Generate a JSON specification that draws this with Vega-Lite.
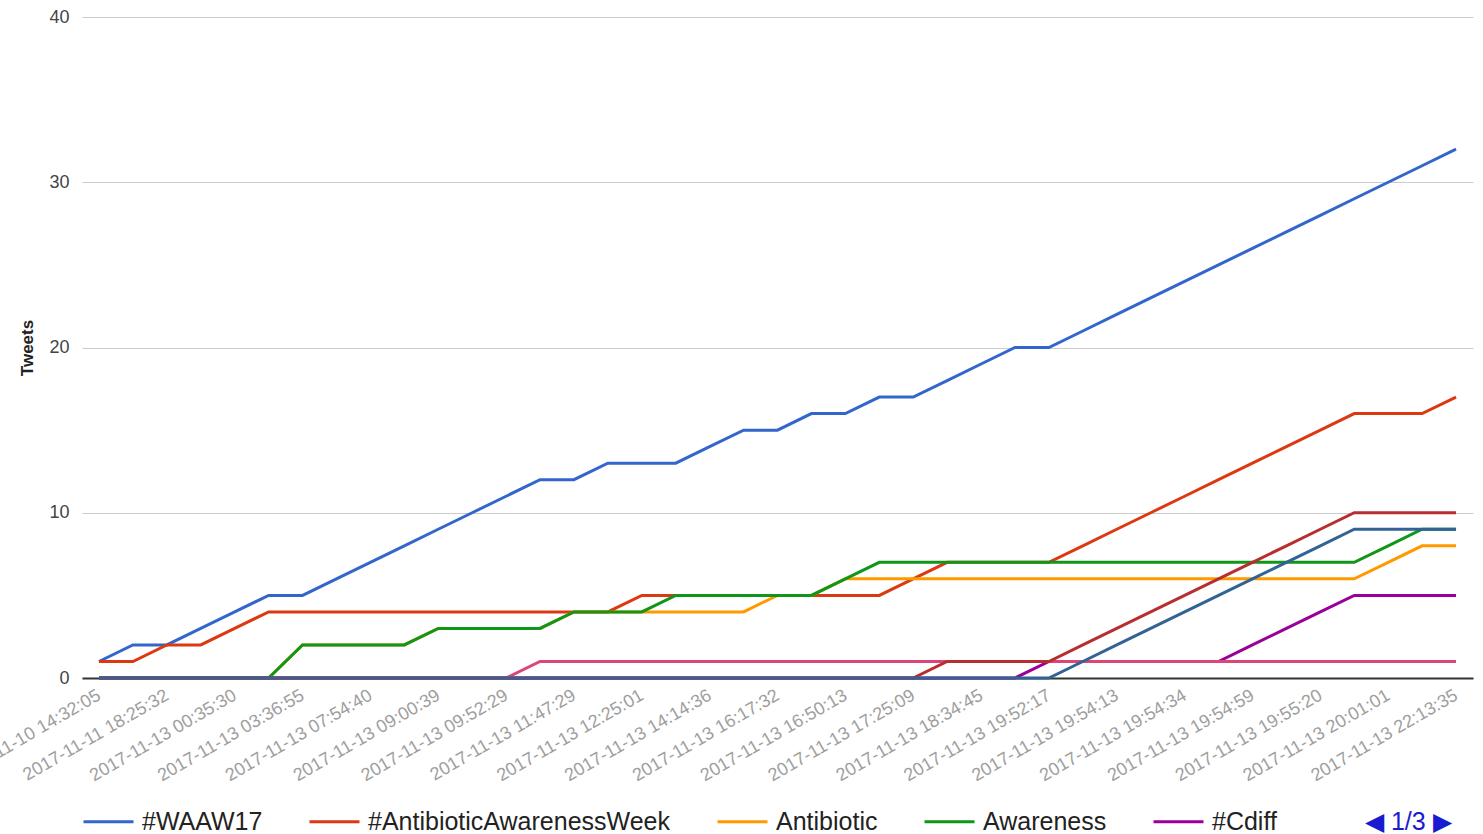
{
  "$schema": "https://vega.github.io/schema/vega-lite/v6.json",
  "autosize": {"type": "none"},
  "width": 1391,
  "height": 661,
  "padding": {"left": 82, "top": 17, "right": 10, "bottom": 156},
  "background": "white",
  "config": {
    "font": "Liberation Sans",
    "view": {"stroke": null}
  },
  "data": {
    "values": [
      {"t": "2017-11-10 14:32:05", "#WAAW17": 1, "#AntibioticAwarenessWeek": 1, "Antibiotic": 0, "Awareness": 0, "#Cdiff": 0, "#AMR": 0, "#antibiotics": 0, "#superbugs": 0},
      {"t": "2017-11-11 02:10:44", "#WAAW17": 2, "#AntibioticAwarenessWeek": 1, "Antibiotic": 0, "Awareness": 0, "#Cdiff": 0, "#AMR": 0, "#antibiotics": 0, "#superbugs": 0},
      {"t": "2017-11-11 18:25:32", "#WAAW17": 2, "#AntibioticAwarenessWeek": 2, "Antibiotic": 0, "Awareness": 0, "#Cdiff": 0, "#AMR": 0, "#antibiotics": 0, "#superbugs": 0},
      {"t": "2017-11-12 21:03:18", "#WAAW17": 3, "#AntibioticAwarenessWeek": 2, "Antibiotic": 0, "Awareness": 0, "#Cdiff": 0, "#AMR": 0, "#antibiotics": 0, "#superbugs": 0},
      {"t": "2017-11-13 00:35:30", "#WAAW17": 4, "#AntibioticAwarenessWeek": 3, "Antibiotic": 0, "Awareness": 0, "#Cdiff": 0, "#AMR": 0, "#antibiotics": 0, "#superbugs": 0},
      {"t": "2017-11-13 02:12:47", "#WAAW17": 5, "#AntibioticAwarenessWeek": 4, "Antibiotic": 0, "Awareness": 0, "#Cdiff": 0, "#AMR": 0, "#antibiotics": 0, "#superbugs": 0},
      {"t": "2017-11-13 03:36:55", "#WAAW17": 5, "#AntibioticAwarenessWeek": 4, "Antibiotic": 2, "Awareness": 2, "#Cdiff": 0, "#AMR": 0, "#antibiotics": 0, "#superbugs": 0},
      {"t": "2017-11-13 05:40:12", "#WAAW17": 6, "#AntibioticAwarenessWeek": 4, "Antibiotic": 2, "Awareness": 2, "#Cdiff": 0, "#AMR": 0, "#antibiotics": 0, "#superbugs": 0},
      {"t": "2017-11-13 07:54:40", "#WAAW17": 7, "#AntibioticAwarenessWeek": 4, "Antibiotic": 2, "Awareness": 2, "#Cdiff": 0, "#AMR": 0, "#antibiotics": 0, "#superbugs": 0},
      {"t": "2017-11-13 08:21:06", "#WAAW17": 8, "#AntibioticAwarenessWeek": 4, "Antibiotic": 2, "Awareness": 2, "#Cdiff": 0, "#AMR": 0, "#antibiotics": 0, "#superbugs": 0},
      {"t": "2017-11-13 09:00:39", "#WAAW17": 9, "#AntibioticAwarenessWeek": 4, "Antibiotic": 3, "Awareness": 3, "#Cdiff": 0, "#AMR": 0, "#antibiotics": 0, "#superbugs": 0},
      {"t": "2017-11-13 09:27:51", "#WAAW17": 10, "#AntibioticAwarenessWeek": 4, "Antibiotic": 3, "Awareness": 3, "#Cdiff": 0, "#AMR": 0, "#antibiotics": 0, "#superbugs": 0},
      {"t": "2017-11-13 09:52:29", "#WAAW17": 11, "#AntibioticAwarenessWeek": 4, "Antibiotic": 3, "Awareness": 3, "#Cdiff": 0, "#AMR": 0, "#antibiotics": 0, "#superbugs": 0},
      {"t": "2017-11-13 10:44:02", "#WAAW17": 12, "#AntibioticAwarenessWeek": 4, "Antibiotic": 3, "Awareness": 3, "#Cdiff": 0, "#AMR": 1, "#antibiotics": 0, "#superbugs": 0},
      {"t": "2017-11-13 11:47:29", "#WAAW17": 12, "#AntibioticAwarenessWeek": 4, "Antibiotic": 4, "Awareness": 4, "#Cdiff": 0, "#AMR": 1, "#antibiotics": 0, "#superbugs": 0},
      {"t": "2017-11-13 12:03:17", "#WAAW17": 13, "#AntibioticAwarenessWeek": 4, "Antibiotic": 4, "Awareness": 4, "#Cdiff": 0, "#AMR": 1, "#antibiotics": 0, "#superbugs": 0},
      {"t": "2017-11-13 12:25:01", "#WAAW17": 13, "#AntibioticAwarenessWeek": 5, "Antibiotic": 4, "Awareness": 4, "#Cdiff": 0, "#AMR": 1, "#antibiotics": 0, "#superbugs": 0},
      {"t": "2017-11-13 13:31:48", "#WAAW17": 13, "#AntibioticAwarenessWeek": 5, "Antibiotic": 4, "Awareness": 5, "#Cdiff": 0, "#AMR": 1, "#antibiotics": 0, "#superbugs": 0},
      {"t": "2017-11-13 14:14:36", "#WAAW17": 14, "#AntibioticAwarenessWeek": 5, "Antibiotic": 4, "Awareness": 5, "#Cdiff": 0, "#AMR": 1, "#antibiotics": 0, "#superbugs": 0},
      {"t": "2017-11-13 15:22:10", "#WAAW17": 15, "#AntibioticAwarenessWeek": 5, "Antibiotic": 4, "Awareness": 5, "#Cdiff": 0, "#AMR": 1, "#antibiotics": 0, "#superbugs": 0},
      {"t": "2017-11-13 16:17:32", "#WAAW17": 15, "#AntibioticAwarenessWeek": 5, "Antibiotic": 5, "Awareness": 5, "#Cdiff": 0, "#AMR": 1, "#antibiotics": 0, "#superbugs": 0},
      {"t": "2017-11-13 16:31:45", "#WAAW17": 16, "#AntibioticAwarenessWeek": 5, "Antibiotic": 5, "Awareness": 5, "#Cdiff": 0, "#AMR": 1, "#antibiotics": 0, "#superbugs": 0},
      {"t": "2017-11-13 16:50:13", "#WAAW17": 16, "#AntibioticAwarenessWeek": 5, "Antibiotic": 6, "Awareness": 6, "#Cdiff": 0, "#AMR": 1, "#antibiotics": 0, "#superbugs": 0},
      {"t": "2017-11-13 17:08:27", "#WAAW17": 17, "#AntibioticAwarenessWeek": 5, "Antibiotic": 6, "Awareness": 7, "#Cdiff": 0, "#AMR": 1, "#antibiotics": 0, "#superbugs": 0},
      {"t": "2017-11-13 17:25:09", "#WAAW17": 17, "#AntibioticAwarenessWeek": 6, "Antibiotic": 6, "Awareness": 7, "#Cdiff": 0, "#AMR": 1, "#antibiotics": 0, "#superbugs": 0},
      {"t": "2017-11-13 18:02:33", "#WAAW17": 18, "#AntibioticAwarenessWeek": 7, "Antibiotic": 6, "Awareness": 7, "#Cdiff": 0, "#AMR": 1, "#antibiotics": 1, "#superbugs": 0},
      {"t": "2017-11-13 18:34:45", "#WAAW17": 19, "#AntibioticAwarenessWeek": 7, "Antibiotic": 6, "Awareness": 7, "#Cdiff": 0, "#AMR": 1, "#antibiotics": 1, "#superbugs": 0},
      {"t": "2017-11-13 19:15:08", "#WAAW17": 20, "#AntibioticAwarenessWeek": 7, "Antibiotic": 6, "Awareness": 7, "#Cdiff": 0, "#AMR": 1, "#antibiotics": 1, "#superbugs": 0},
      {"t": "2017-11-13 19:52:17", "#WAAW17": 20, "#AntibioticAwarenessWeek": 7, "Antibiotic": 6, "Awareness": 7, "#Cdiff": 1, "#AMR": 1, "#antibiotics": 1, "#superbugs": 0},
      {"t": "2017-11-13 19:53:26", "#WAAW17": 21, "#AntibioticAwarenessWeek": 8, "Antibiotic": 6, "Awareness": 7, "#Cdiff": 1, "#AMR": 1, "#antibiotics": 2, "#superbugs": 1},
      {"t": "2017-11-13 19:54:13", "#WAAW17": 22, "#AntibioticAwarenessWeek": 9, "Antibiotic": 6, "Awareness": 7, "#Cdiff": 1, "#AMR": 1, "#antibiotics": 3, "#superbugs": 2},
      {"t": "2017-11-13 19:54:22", "#WAAW17": 23, "#AntibioticAwarenessWeek": 10, "Antibiotic": 6, "Awareness": 7, "#Cdiff": 1, "#AMR": 1, "#antibiotics": 4, "#superbugs": 3},
      {"t": "2017-11-13 19:54:34", "#WAAW17": 24, "#AntibioticAwarenessWeek": 11, "Antibiotic": 6, "Awareness": 7, "#Cdiff": 1, "#AMR": 1, "#antibiotics": 5, "#superbugs": 4},
      {"t": "2017-11-13 19:54:47", "#WAAW17": 25, "#AntibioticAwarenessWeek": 12, "Antibiotic": 6, "Awareness": 7, "#Cdiff": 1, "#AMR": 1, "#antibiotics": 6, "#superbugs": 5},
      {"t": "2017-11-13 19:54:59", "#WAAW17": 26, "#AntibioticAwarenessWeek": 13, "Antibiotic": 6, "Awareness": 7, "#Cdiff": 2, "#AMR": 1, "#antibiotics": 7, "#superbugs": 6},
      {"t": "2017-11-13 19:55:08", "#WAAW17": 27, "#AntibioticAwarenessWeek": 14, "Antibiotic": 6, "Awareness": 7, "#Cdiff": 3, "#AMR": 1, "#antibiotics": 8, "#superbugs": 7},
      {"t": "2017-11-13 19:55:20", "#WAAW17": 28, "#AntibioticAwarenessWeek": 15, "Antibiotic": 6, "Awareness": 7, "#Cdiff": 4, "#AMR": 1, "#antibiotics": 9, "#superbugs": 8},
      {"t": "2017-11-13 19:58:40", "#WAAW17": 29, "#AntibioticAwarenessWeek": 16, "Antibiotic": 6, "Awareness": 7, "#Cdiff": 5, "#AMR": 1, "#antibiotics": 10, "#superbugs": 9},
      {"t": "2017-11-13 20:01:01", "#WAAW17": 30, "#AntibioticAwarenessWeek": 16, "Antibiotic": 7, "Awareness": 8, "#Cdiff": 5, "#AMR": 1, "#antibiotics": 10, "#superbugs": 9},
      {"t": "2017-11-13 21:06:52", "#WAAW17": 31, "#AntibioticAwarenessWeek": 16, "Antibiotic": 8, "Awareness": 9, "#Cdiff": 5, "#AMR": 1, "#antibiotics": 10, "#superbugs": 9},
      {"t": "2017-11-13 22:13:35", "#WAAW17": 32, "#AntibioticAwarenessWeek": 17, "Antibiotic": 8, "Awareness": 9, "#Cdiff": 5, "#AMR": 1, "#antibiotics": 10, "#superbugs": 9}
    ]
  },
  "transform": [
    {"fold": ["#WAAW17", "#AntibioticAwarenessWeek", "Antibiotic", "Awareness", "#Cdiff", "#AMR", "#antibiotics", "#superbugs"], "as": ["series", "tweets"]}
  ],
  "mark": {"type": "line", "strokeWidth": 3, "interpolate": "linear"},
  "encoding": {
    "x": {
      "field": "t",
      "type": "ordinal",
      "sort": null,
      "scale": {"type": "point", "padding": 0.5},
      "axis": {
        "title": null,
        "values": ["2017-11-10 14:32:05", "2017-11-11 18:25:32", "2017-11-13 00:35:30", "2017-11-13 03:36:55", "2017-11-13 07:54:40", "2017-11-13 09:00:39", "2017-11-13 09:52:29", "2017-11-13 11:47:29", "2017-11-13 12:25:01", "2017-11-13 14:14:36", "2017-11-13 16:17:32", "2017-11-13 16:50:13", "2017-11-13 17:25:09", "2017-11-13 18:34:45", "2017-11-13 19:52:17", "2017-11-13 19:54:13", "2017-11-13 19:54:34", "2017-11-13 19:54:59", "2017-11-13 19:55:20", "2017-11-13 20:01:01", "2017-11-13 22:13:35"],
        "labelAngle": -30,
        "labelAlign": "right",
        "labelBaseline": "middle",
        "labelPadding": 16,
        "labelFontSize": 18,
        "labelColor": "#9e9e9e",
        "labelOverlap": false,
        "labelBound": false,
        "labelFlush": false,
        "ticks": false,
        "grid": false,
        "domainColor": "#333333",
        "domainWidth": 2
      }
    },
    "y": {
      "field": "tweets",
      "type": "quantitative",
      "scale": {"domain": [0, 40], "nice": false},
      "axis": {
        "title": "Tweets",
        "titleFontSize": 17,
        "titleFontWeight": "bold",
        "titleColor": "#222222",
        "titlePadding": 12,
        "values": [0, 10, 20, 30, 40],
        "labelFontSize": 18,
        "labelColor": "#444444",
        "labelPadding": 13,
        "ticks": false,
        "domain": false,
        "gridColor": "#cccccc",
        "gridWidth": 1
      }
    },
    "color": {
      "field": "series",
      "type": "nominal",
      "scale": {
        "domain": ["#WAAW17", "#AntibioticAwarenessWeek", "Antibiotic", "Awareness", "#Cdiff", "#AMR", "#antibiotics", "#superbugs"],
        "range": ["#3366cc", "#dc3912", "#ff9900", "#109618", "#990099", "#dd4477", "#b82e2e", "#316395"]
      },
      "legend": {
        "values": ["#WAAW17", "#AntibioticAwarenessWeek", "Antibiotic", "Awareness", "#Cdiff"],
        "orient": "none",
        "direction": "horizontal",
        "legendX": 0,
        "legendY": 778,
        "symbolType": "stroke",
        "symbolSize": 2500,
        "symbolStrokeWidth": 3,
        "labelFontSize": 25,
        "labelColor": "#222222",
        "labelOffset": 7,
        "labelLimit": 0,
        "columnPadding": 40,
        "title": "◀ 1/3 ▶",
        "titleOrient": "right",
        "titleAnchor": "end",
        "titleBaseline": "bottom",
        "titleFontSize": 25,
        "titleFontWeight": "normal",
        "titleColor": "#1a1ad0",
        "titlePadding": 88
      }
    }
  }
}
